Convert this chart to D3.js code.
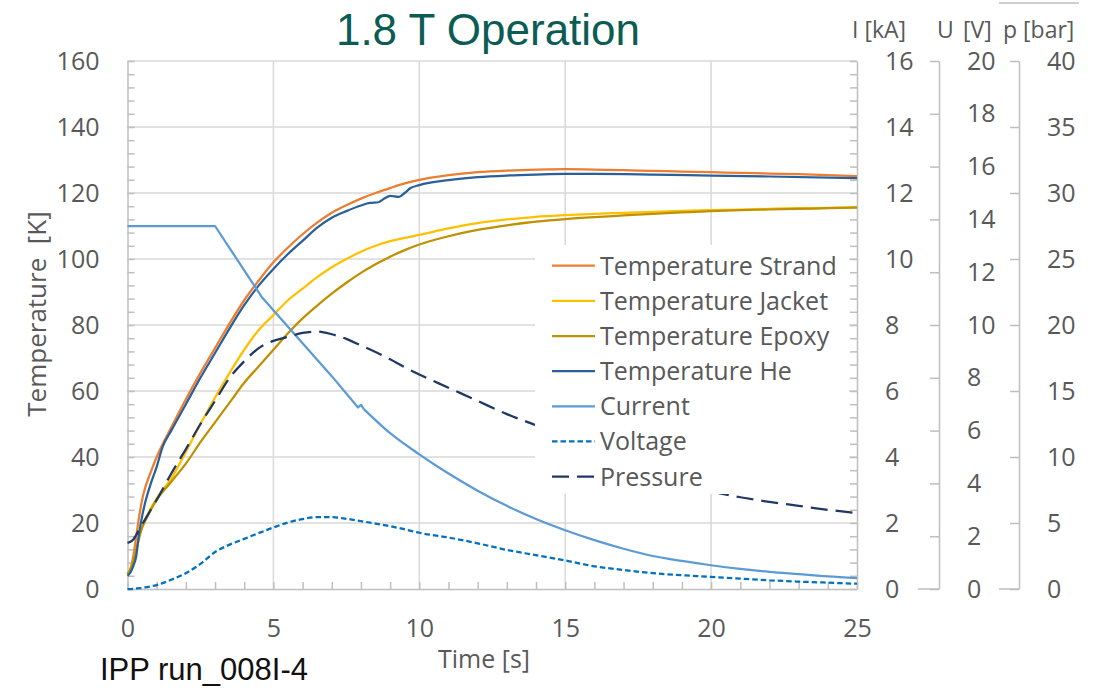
<!DOCTYPE html>
<html><head><meta charset="utf-8">
<script src="https://cdn.jsdelivr.net/npm/d3@7"></script>
<style>
html,body{margin:0;padding:0;background:#fff;}
svg{display:block;}
</style></head><body>
<svg id="chart" width="1097" height="688"></svg>
<script>
// ---- data -------------------------------------------------------------
// common time base [s]
const tGrid = [0,0.1,0.2,0.3,0.4,0.5,0.6,0.8,1,1.5,2,2.5,3,3.5,4,4.5,5,5.5,6,6.5,7,7.5,8,8.5,9,9.5,10,11,12,13,14,15,16,17,18,19,20,21,22,23,24,25];
// temperatures [K]
const tempStrand = [4.5,6,10,16,22,27,30.5,35.5,40,49,57.5,65.5,73,80.5,87.5,93.5,99,103.5,107.5,111,114,116.3,118.3,120,121.5,122.9,124,125.4,126.3,126.8,127.1,127.2,127.1,126.9,126.7,126.5,126.3,126.1,125.9,125.7,125.4,125.1];
const tempJacket = [4.5,6,8.5,12,16,19,21,24.5,27.5,33.5,41.5,50,58,65.5,72.5,78.5,83,87.5,91,94.5,97.5,100,102.2,104,105.4,106.4,107.3,109.3,110.9,112,112.8,113.3,113.7,114,114.3,114.6,114.8,115,115.2,115.4,115.5,115.7];
const tempEpoxy  = [4.5,6,8.5,12,15.5,18.5,20.5,24,27,32.5,38,44.5,50.5,56.5,62.5,67.5,72.5,77.5,82,85.9,89.5,92.8,95.8,98.4,100.7,102.7,104.4,106.9,108.8,110.2,111.3,112.1,112.7,113.2,113.7,114.1,114.5,114.8,115,115.2,115.4,115.6];
// helium temperature has its own sampling
const tHe   = [0,0.1,0.2,0.3,0.4,0.5,0.6,0.8,1,1.2,1.5,2,2.5,3,3.5,4,4.5,5,5.5,6,6.5,7,7.5,8,8.3,8.6,8.8,9.0,9.3,9.5,9.7,10,11,12,13,14,15,16,18,20,22,25];
const tempHe = [4,5,7,10,17,22,26,32,37,43,48,56,64,71.5,79,86,92,97,101.5,105.5,109.5,112.5,114.5,116.2,117,117.2,118.3,119.1,118.8,120,121.5,122.4,123.9,124.8,125.3,125.6,125.8,125.8,125.6,125.3,125,124.5];
// coil current [kA]
const tCurrent  = [0,3,4.6,5,6,7,7.9,8.0,8.1,9,10,11,12,13,14,15,16,17,18,19,20,21,22,23,24,25];
const currentKA = [11.0,11.0,8.85,8.45,7.45,6.45,5.5,5.58,5.45,4.72,4.08,3.5,2.98,2.52,2.12,1.78,1.48,1.22,1.0,0.85,0.72,0.61,0.52,0.45,0.38,0.33];
// voltage [V] on tGrid
const voltageV = [0,0,0.01,0.02,0.03,0.04,0.06,0.1,0.15,0.35,0.6,0.95,1.4,1.68,1.9,2.12,2.33,2.52,2.65,2.72,2.72,2.66,2.57,2.48,2.38,2.26,2.13,1.95,1.73,1.48,1.28,1.08,0.86,0.72,0.6,0.52,0.46,0.39,0.33,0.28,0.24,0.2];
// pressure [bar] on tGrid
const pressureBar = [3.5,3.58,3.75,4.1,4.5,4.9,5.25,6.0,6.75,8.75,10.6,12.5,14.25,16.0,17.25,18.25,18.8,19.1,19.4,19.5,19.3,18.95,18.45,17.95,17.4,16.8,16.25,15.25,14.25,13.25,12.4,11.5,10.6,9.75,8.9,8.0,7.4,6.95,6.6,6.3,6.0,5.75];

// axis ticks
const tempTicks = d3.range(0, 161, 20);
const timeTicks = [0, 5, 10, 15, 20, 25];
const currentTicks = d3.range(0, 17, 2);
const voltageTicks = d3.range(0, 21, 2);
const pressureTicks = d3.range(0, 41, 5);

// ---- scales -----------------------------------------------------------
const svg = d3.select("#chart");
const x  = d3.scaleLinear().domain([0, 25]).range([127.5, 857]);
const yK = d3.scaleLinear().domain([0, 160]).range([589, 61]);
const yI = d3.scaleLinear().domain([0, 16]).range([589, 61]);
const yU = d3.scaleLinear().domain([0, 20]).range([589, 61]);
const yP = d3.scaleLinear().domain([0, 40]).range([589, 61]);

const GRID = "#d9d9d9", AXIS = "#bfbfbf", TEXT = "#595959";
const FONT = "'Open Sans', Lato, sans-serif";
const FS = "25px";

// ---- gridlines --------------------------------------------------------
const grid = svg.append("g");
grid.selectAll("line.h").data(tempTicks.filter(d => d > 0)).join("line").attr("class", "h")
  .attr("x1", x(0)).attr("x2", x(25)).attr("y1", d => yK(d)).attr("y2", d => yK(d))
  .attr("stroke", GRID).attr("stroke-width", 1.5);
grid.selectAll("line.v").data(timeTicks.filter(d => d > 0 && d < 25)).join("line").attr("class", "v")
  .attr("x1", d => x(d)).attr("x2", d => x(d)).attr("y1", yK(160)).attr("y2", yK(0))
  .attr("stroke", GRID).attr("stroke-width", 1.5);

// ---- axes -------------------------------------------------------------
function styleAxis(g, noDomain) {
  if (noDomain) g.select(".domain").remove();
  else g.select(".domain").attr("stroke", AXIS).attr("stroke-width", 1.5);
  g.selectAll(".tick line").attr("stroke", AXIS).attr("stroke-width", 1.5);
  g.selectAll("text").attr("fill", TEXT).style("font-family", FONT).style("font-size", FS);
}
const axes = svg.append("g");

// temperature axis (left)
axes.append("g").attr("transform", `translate(${x(0)},0)`)
  .call(d3.axisRight(yK).tickValues(d3.range(0, 161, 4)).tickSize(7).tickSizeOuter(0).tickFormat(""))
  .call(g => styleAxis(g));
axes.append("g").attr("transform", `translate(${x(0)},0)`)
  .call(d3.axisLeft(yK).tickValues(tempTicks).tickSize(0).tickPadding(28))
  .call(g => styleAxis(g, true));

// time axis (bottom)
axes.append("g").attr("transform", `translate(0,${yK(0)})`)
  .call(d3.axisTop(x).tickValues(d3.range(0, 26, 1)).tickSize(7).tickSizeOuter(0).tickFormat(""))
  .call(g => styleAxis(g));
axes.append("g").attr("transform", `translate(0,${yK(0)})`)
  .call(d3.axisBottom(x).tickValues(timeTicks).tickSize(0))
  .call(g => styleAxis(g, true))
  .call(g => g.selectAll("text").attr("y", 48).attr("dy", null));

// current axis
axes.append("g").attr("transform", `translate(${x(25)},0)`)
  .call(d3.axisLeft(yI).tickValues(d3.range(0, 41).map(i => i * 0.4)).tickSize(7).tickSizeOuter(0).tickFormat(""))
  .call(g => styleAxis(g));
axes.append("g").attr("transform", `translate(${x(25)},0)`)
  .call(d3.axisRight(yI).tickValues(currentTicks).tickSize(0).tickPadding(28))
  .call(g => styleAxis(g, true));

// voltage axis
const xU = 939;
axes.append("g").attr("transform", `translate(${xU},0)`)
  .call(d3.axisLeft(yU).tickValues(voltageTicks).tickSize(9).tickSizeOuter(0).tickFormat(""))
  .call(g => styleAxis(g));
axes.append("g").attr("transform", `translate(${xU},0)`)
  .call(d3.axisRight(yU).tickValues(voltageTicks).tickSize(0).tickPadding(28))
  .call(g => styleAxis(g, true));
axes.append("line").attr("x1", xU - 21).attr("x2", xU).attr("y1", yU(0)).attr("y2", yU(0))
  .attr("stroke", AXIS).attr("stroke-width", 1.5);

// pressure axis
const xP = 1019;
axes.append("g").attr("transform", `translate(${xP},0)`)
  .call(d3.axisLeft(yP).tickValues(pressureTicks).tickSize(9).tickSizeOuter(0).tickFormat(""))
  .call(g => styleAxis(g));
axes.append("g").attr("transform", `translate(${xP},0)`)
  .call(d3.axisRight(yP).tickValues(pressureTicks).tickSize(0).tickPadding(28))
  .call(g => styleAxis(g, true));
axes.append("line").attr("x1", xP - 20).attr("x2", xP).attr("y1", yP(0)).attr("y2", yP(0))
  .attr("stroke", AXIS).attr("stroke-width", 1.5);

// small rule at the top right corner
svg.append("line").attr("x1", 999).attr("x2", 1079).attr("y1", 3).attr("y2", 3)
  .attr("stroke", AXIS).attr("stroke-width", 1.5);

// ---- series -----------------------------------------------------------
const series = [
  { name: "Temperature Strand", t: tGrid, v: tempStrand, y: yK, color: "#ED7D31", dash: null },
  { name: "Temperature Jacket", t: tGrid, v: tempJacket, y: yK, color: "#FFC000", dash: null },
  { name: "Temperature Epoxy",  t: tGrid, v: tempEpoxy,  y: yK, color: "#BF9000", dash: null },
  { name: "Temperature He",     t: tHe,   v: tempHe,     y: yK, color: "#2A6099", dash: null },
  { name: "Current",            t: tCurrent, v: currentKA, y: yI, color: "#5B9BD5", dash: null, linearUntil: 8.1 },
  { name: "Voltage",            t: tGrid, v: voltageV,   y: yU, color: "#0070C0", dash: "5.5,3" },
  { name: "Pressure",           t: tGrid, v: pressureBar, y: yP, color: "#1F3864", dash: "17,8" }
];

const plot = svg.append("g");
function drawPath(pts, s, curve) {
  const line = d3.line().x(d => x(d[0])).y(d => s.y(d[1])).curve(curve);
  plot.append("path").datum(pts).attr("d", line)
    .attr("fill", "none").attr("stroke", s.color).attr("stroke-width", 2.25)
    .attr("stroke-linejoin", "round")
    .attr("stroke-dasharray", s.dash);
}
series.forEach(s => {
  const pts = s.t.map((t, i) => [t, s.v[i]]);
  if (s.linearUntil != null) {
    // straight ramp segments, then a smooth decay
    drawPath(pts.filter(p => p[0] <= s.linearUntil), s, d3.curveLinear);
    drawPath(pts.filter(p => p[0] >= s.linearUntil), s, d3.curveMonotoneX);
  } else {
    drawPath(pts, s, d3.curveMonotoneX);
  }
});

// ---- legend -----------------------------------------------------------
const legend = svg.append("g");
legend.append("rect").attr("x", 535).attr("y", 245).attr("width", 314).attr("height", 249).attr("fill", "#fff");
series.forEach((s, i) => {
  const ly = 265.7 + i * 35.15;
  legend.append("line").attr("x1", 552).attr("x2", 595).attr("y1", ly).attr("y2", ly)
    .attr("stroke", s.color).attr("stroke-width", 2.25).attr("stroke-dasharray", s.dash);
  legend.append("text").attr("x", 600).attr("y", ly + 9).text(s.name)
    .attr("fill", TEXT).style("font-family", FONT).style("font-size", FS);
});

// ---- titles -----------------------------------------------------------
svg.append("text").attr("x", 488).attr("y", 45).attr("text-anchor", "middle")
  .text("1.8 T Operation").attr("fill", "#0B5C55")
  .style("font-family", "'Liberation Sans', Arial, sans-serif").style("font-size", "44px");

// secondary axis headers
const headStyle = t => t.attr("fill", TEXT).style("font-family", FONT).style("font-size", "23px");
const headY = 38;
svg.append("text").attr("x", 852).attr("y", headY).text("I [kA]").call(headStyle);
const uHead = svg.append("text").attr("y", headY).call(headStyle);
uHead.append("tspan").attr("x", 937).text("U");
uHead.append("tspan").attr("x", 963).text("[V]");
svg.append("text").attr("x", 1003).attr("y", headY).text("p [bar]").call(headStyle);

svg.append("text").attr("transform", "translate(46,314) rotate(-90)").attr("text-anchor", "middle")
  .text("Temperature  [K]").attr("fill", TEXT).style("font-family", FONT).style("font-size", "26px")
  .style("white-space", "pre");

svg.append("text").attr("x", 484).attr("y", 668).attr("text-anchor", "middle")
  .text("Time [s]").attr("fill", TEXT).style("font-family", FONT).style("font-size", FS);

svg.append("text").attr("x", 100).attr("y", 680)
  .text("IPP run_008I-4").attr("fill", "#111")
  .style("font-family", "'Liberation Sans', Arial, sans-serif").style("font-size", "31px");
</script></body></html>
